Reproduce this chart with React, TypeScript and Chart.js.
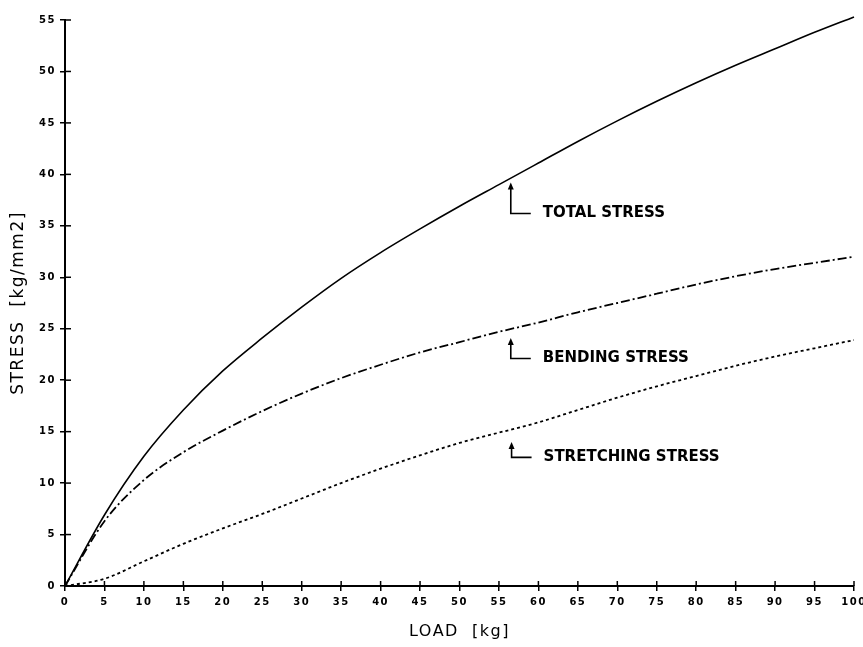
import { useEffect, useRef } from "react";
import { Chart, registerables } from "chart.js";

Chart.register(...registerables);

// ---- data ----
const loads = [0, 5, 10, 15, 20, 25, 30, 35, 40, 45, 50, 55, 60, 65, 70, 75, 80, 85, 90, 95, 100];
const totalStress = [0, 6.9, 12.6, 17.1, 20.9, 24.1, 27.1, 29.9, 32.4, 34.7, 36.9, 39.0, 41.1, 43.2, 45.2, 47.1, 48.9, 50.6, 52.2, 53.8, 55.3];
const bendingStress = [0, 6.3, 10.3, 13.0, 15.1, 17.0, 18.7, 20.2, 21.5, 22.7, 23.7, 24.7, 25.6, 26.6, 27.5, 28.4, 29.3, 30.1, 30.8, 31.4, 32.0];
const stretchingStress = [0, 0.7, 2.4, 4.1, 5.6, 7.0, 8.5, 10.0, 11.4, 12.7, 13.9, 14.9, 15.9, 17.1, 18.3, 19.4, 20.4, 21.4, 22.3, 23.1, 23.9];

const xAxisMin = 0;
const xAxisMax = 100;
const xTickStep = 5;
const yAxisMin = 0;
const yAxisMax = 55;
const yTickStep = 5;

const xTitle = "LOAD  [kg]";
const yTitle = "STRESS  [kg/mm2]";

// callout labels, anchored in data units
const calloutLabels = ["TOTAL STRESS", "BENDING STRESS", "STRETCHING STRESS"];
const calloutLoad = [56.5, 56.5, 56.6];
const calloutTip = [39.2, 24.1, 14.0];
const calloutCorner = [36.2, 22.1, 12.5];

const decorations = {
  id: "decorations",
  beforeDraw(chart: any) {
    (chart.ctx as any).letterSpacing = "1.5px";
  },
  afterDraw(chart: any) {
    const { ctx, scales } = chart;
    const x = scales.x;
    const y = scales.y;
    ctx.save();
    (ctx as any).letterSpacing = "0px";
    ctx.strokeStyle = "#000";
    ctx.fillStyle = "#000";
    ctx.lineWidth = 1.5;
    // inner halves of the crossing tick marks
    x.ticks.forEach((t: any) => {
      const px = x.getPixelForValue(t.value);
      ctx.beginPath();
      ctx.moveTo(px, y.bottom);
      ctx.lineTo(px, y.bottom - 5);
      ctx.stroke();
    });
    y.ticks.forEach((t: any) => {
      const py = y.getPixelForValue(t.value);
      ctx.beginPath();
      ctx.moveTo(x.left, py);
      ctx.lineTo(x.left + 6, py);
      ctx.stroke();
    });
    // callouts
    calloutLabels.forEach((label, i) => {
      const px = x.getPixelForValue(calloutLoad[i]);
      const tipY = y.getPixelForValue(calloutTip[i]);
      const cornerY = y.getPixelForValue(calloutCorner[i]);
      ctx.lineWidth = 1.6;
      ctx.beginPath();
      ctx.moveTo(px, tipY + 5);
      ctx.lineTo(px, cornerY);
      ctx.lineTo(px + 20, cornerY);
      ctx.stroke();
      ctx.beginPath();
      ctx.moveTo(px, tipY);
      ctx.lineTo(px - 3, tipY + 7);
      ctx.lineTo(px + 3, tipY + 7);
      ctx.closePath();
      ctx.fill();
      ctx.font = '600 15px "DejaVu Sans"';
      ctx.textAlign = "left";
      ctx.textBaseline = "middle";
      ctx.fillText(label, px + 32, cornerY);
    });
    ctx.restore();
  },
};

export default function App() {
  const canvasRef = useRef<HTMLCanvasElement | null>(null);

  useEffect(() => {
    if (!canvasRef.current) return;
    const toPoints = (ys: number[]) => loads.map((v, i) => ({ x: v, y: ys[i] }));
    const tickFont = { family: "DejaVu Sans", size: 10, weight: "bold" as const };
    const chart = new Chart(canvasRef.current, {
      type: "line",
      data: {
        datasets: [
          {
            label: "Total stress",
            data: toPoints(totalStress),
            borderColor: "#000",
            borderWidth: 1.6,
            pointRadius: 0,
            cubicInterpolationMode: "monotone",
            fill: false,
            clip: false,
          },
          {
            label: "Bending stress",
            data: toPoints(bendingStress),
            borderColor: "#000",
            borderWidth: 1.8,
            borderDash: [9, 3, 2, 3],
            pointRadius: 0,
            cubicInterpolationMode: "monotone",
            fill: false,
          },
          {
            label: "Stretching stress",
            data: toPoints(stretchingStress),
            borderColor: "#000",
            borderWidth: 1.8,
            borderDash: [3, 3],
            pointRadius: 0,
            cubicInterpolationMode: "monotone",
            fill: false,
          },
        ],
      },
      options: {
        responsive: false,
        animation: false,
        layout: { padding: { top: 20, right: 9, left: 0, bottom: 0 } },
        plugins: { legend: { display: false }, tooltip: { enabled: false } },
        scales: {
          x: {
            type: "linear",
            min: xAxisMin,
            max: xAxisMax,
            ticks: { stepSize: xTickStep, color: "#000", font: tickFont, padding: 5, maxRotation: 0, autoSkip: false },
            grid: { drawOnChartArea: false, drawTicks: true, tickLength: 5, color: "#000", lineWidth: 1.5 },
            border: { display: true, color: "#000", width: 2 },
            title: {
              display: true,
              text: xTitle,
              color: "#000",
              font: { family: "DejaVu Sans", size: 16 },
              padding: { top: 0, bottom: 6 },
            },
            afterFit(s: any) {
              s.height = 61;
              s.paddingLeft = 0;
              s.paddingRight = 0;
            },
          },
          y: {
            type: "linear",
            min: yAxisMin,
            max: yAxisMax,
            ticks: { stepSize: yTickStep, color: "#000", font: tickFont, padding: 4 },
            grid: { drawOnChartArea: false, drawTicks: true, tickLength: 5, color: "#000", lineWidth: 1.5 },
            border: { display: true, color: "#000", width: 2 },
            title: {
              display: true,
              text: yTitle,
              color: "#000",
              font: { family: "DejaVu Sans", size: 17 },
              padding: { top: 8, bottom: 0 },
            },
            afterFit(s: any) {
              s.width = 65;
              s.paddingTop = 0;
              s.paddingBottom = 0;
            },
          },
        },
      },
      plugins: [decorations],
    });
    return () => chart.destroy();
  }, []);

  return (
    <div style={{ position: "fixed", left: 0, top: 0, width: 863, height: 647, background: "#fff" }}>
      <canvas ref={canvasRef} width={863} height={647} style={{ width: 863, height: 647, display: "block" }} />
    </div>
  );
}
